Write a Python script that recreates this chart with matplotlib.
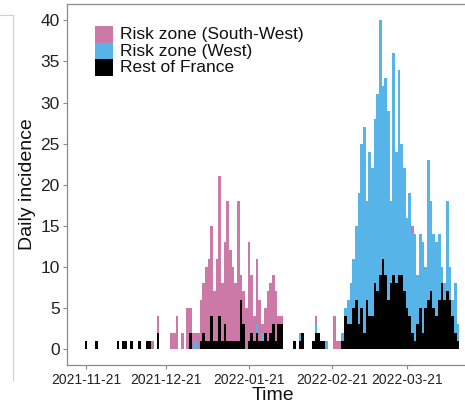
import numpy as np
import pandas as pd
import matplotlib
matplotlib.use("Agg")
import matplotlib.pyplot as plt
import matplotlib.dates as mdates
from matplotlib.patches import Rectangle
from matplotlib.lines import Line2D

start_date = "2021-11-21"

rest_of_france = [
    1, 0, 0, 0, 1, 0, 0, 0, 0, 0,
    0, 0, 1, 0, 1, 1, 0, 1, 0, 0,
    1, 0, 0, 1, 1, 0, 0, 2, 0, 0,
    0, 0, 0, 0, 0, 0, 0, 0, 0, 2,
    0, 0, 0, 1, 2, 1, 1, 4, 1, 1,
    4, 1, 3, 1, 1, 1, 1, 1, 6, 3,
    0, 1, 2, 1, 2, 1, 1, 2, 1, 2,
    3, 1, 3, 3, 0, 0, 0, 0, 1, 0,
    1, 2, 0, 0, 0, 1, 2, 2, 1, 1,
    0, 0, 0, 0, 0, 0, 1, 4, 3, 3,
    5, 6, 3, 5, 2, 6, 4, 4, 8, 7,
    9, 11, 9, 6, 8, 9, 8, 9, 9, 7,
    5, 4, 2, 1, 3, 5, 2, 5, 6, 7,
    5, 4, 6, 8, 6, 7, 6, 4, 2, 1,
]

risk_west = [
    0, 0, 0, 0, 0, 0, 0, 0, 0, 0,
    0, 0, 0, 0, 0, 0, 0, 0, 0, 0,
    0, 0, 0, 0, 0, 0, 0, 0, 0, 0,
    0, 0, 0, 0, 0, 0, 0, 0, 0, 0,
    0, 1, 0, 0, 0, 0, 0, 0, 0, 0,
    0, 0, 0, 0, 0, 0, 0, 0, 0, 0,
    0, 0, 0, 0, 1, 0, 1, 0, 0, 0,
    0, 0, 0, 0, 0, 0, 0, 0, 0, 0,
    1, 0, 0, 0, 0, 0, 1, 0, 0, 0,
    1, 0, 0, 0, 0, 0, 1, 1, 3, 5,
    6, 9, 16, 20, 25, 12, 20, 18, 20, 24,
    31, 21, 24, 23, 10, 27, 16, 25, 16, 15,
    11, 15, 12, 13, 6, 9, 11, 5, 17, 11,
    9, 9, 8, 2, 2, 11, 4, 2, 6, 2,
]

risk_south_west = [
    0, 0, 0, 0, 0, 0, 0, 0, 0, 0,
    0, 0, 0, 0, 0, 0, 0, 0, 0, 0,
    0, 0, 0, 0, 0, 1, 0, 2, 0, 0,
    0, 0, 2, 2, 4, 0, 2, 0, 5, 3,
    2, 1, 2, 5, 6, 9, 10, 11, 6, 10,
    17, 7, 10, 17, 11, 9, 7, 17, 3, 4,
    5, 12, 7, 3, 8, 5, 1, 3, 6, 6,
    6, 6, 1, 1, 0, 0, 0, 0, 0, 0,
    0, 0, 0, 0, 0, 0, 1, 0, 0, 0,
    0, 0, 0, 4, 1, 1, 0, 0, 0, 0,
    0, 0, 0, 0, 0, 0, 0, 0, 0, 0,
    0, 0, 0, 0, 0, 0, 0, 0, 0, 0,
    0, 0, 1, 0, 0, 0, 0, 0, 0, 0,
    0, 0, 0, 0, 0, 0, 0, 0, 0, 0,
]

tick_dates = ["2021-11-21", "2021-12-21", "2022-01-21", "2022-02-21", "2022-03-21"]
y_ticks = [0, 5, 10, 15, 20, 25, 30, 35, 40]
legend_labels = ["Risk zone (South-West)", "Risk zone (West)", "Rest of France"]
series_colors = ["#CC79A7", "#56B4E9", "#000000"]

plt.rcParams["font.family"] = ["Liberation Sans", "DejaVu Sans"]

W, H = 465, 404
fig = plt.figure(figsize=(W / 100, H / 100), dpi=100)
fig.patch.set_facecolor("white")

# panel in pixel coords (left, top, right, bottom) -- right side cropped by figure
pl, pt, pr, pb = 66.7, 4.0, 478.0, 365.0
ax = fig.add_axes([pl / W, 1 - pb / H, (pr - pl) / W, (pb - pt) / H])

dates = pd.date_range(start_date, periods=len(rest_of_france), freq="D")
x = mdates.date2num(dates)
rest = np.array(rest_of_france, dtype=float)
west = np.array(risk_west, dtype=float)
sw = np.array(risk_south_west, dtype=float)

ax.bar(x, rest, width=1.0, color=series_colors[2], linewidth=0)
ax.bar(x, west, width=1.0, bottom=rest, color=series_colors[1], linewidth=0)
ax.bar(x, sw, width=1.0, bottom=rest + west, color=series_colors[0], linewidth=0)

x0 = mdates.date2num(pd.Timestamp(start_date))
ax.set_xlim(x0 - 7.15, x0 + 146.5)
ax.set_ylim(-1.95, 42.0)

tick_x = mdates.date2num(pd.to_datetime(tick_dates))
ax.set_xticks(tick_x)
ax.set_xticklabels(tick_dates, fontsize=10, color="#222222")
ax.set_yticks(y_ticks)
ax.set_yticklabels([str(v) for v in y_ticks], fontsize=12.5, color="#222222")

for s in ax.spines.values():
    s.set_color("#8a8a8a")
    s.set_linewidth(0.9)
ax.tick_params(axis="both", color="#8a8a8a", length=3, width=0.8)
ax.tick_params(axis="y", pad=2)
ax.tick_params(axis="x", pad=2.5)

ax.set_ylabel("Daily incidence", fontsize=14, color="#111111", labelpad=3)
# x axis title placed just under the tick labels (figure is tight at the bottom)
fig.text(272.7 / W, 1 - 400.5 / H, "Time", fontsize=14, color="#111111",
         ha="center", va="baseline")

# legend drawn in figure pixel coordinates
kx, kw, kh, ky0 = 95.0, 17.7, 16.7, 26.0
for i, (lab, col) in enumerate(zip(legend_labels, series_colors)):
    top = ky0 + i * kh
    fig.patches.append(Rectangle((kx / W, 1 - (top + kh) / H), kw / W, kh / H,
                                 transform=fig.transFigure, facecolor=col,
                                 edgecolor="none"))
    fig.text(120 / W, 1 - (top + kh / 2) / H, lab, fontsize=12.5,
             color="#111111", va="center", ha="left")

# neighbouring-panel crop border at left
fig.add_artist(Line2D([0, 13 / W], [1 - 15 / H, 1 - 15 / H], transform=fig.transFigure,
                      color="#d0d0d0", lw=0.8))
fig.add_artist(Line2D([13 / W, 13 / W], [1 - 15 / H, 1 - 380 / H], transform=fig.transFigure,
                      color="#d0d0d0", lw=0.8))

fig.savefig("out.png", dpi=100)
